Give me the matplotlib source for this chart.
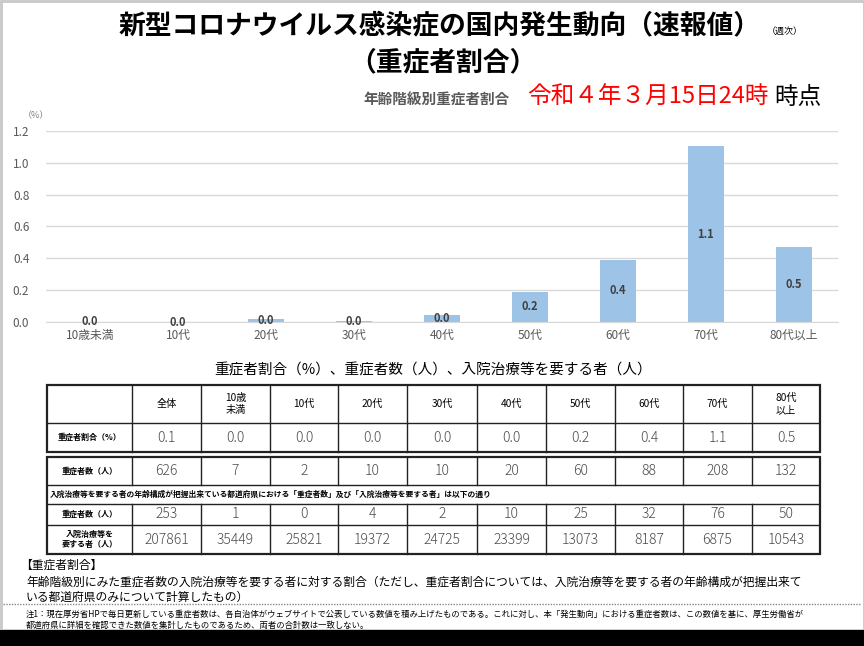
import matplotlib
matplotlib.use("Agg")
import matplotlib.pyplot as plt
from matplotlib.patches import Rectangle

plt.rcParams["font.family"] = ["Noto Sans CJK JP", "DejaVu Sans"]

# ---- data ----
age_groups = ["10歳未満", "10代", "20代", "30代", "40代", "50代", "60代", "70代", "80代以上"]
severe_ratio = [0.003, 0.0, 0.021, 0.008, 0.043, 0.191, 0.391, 1.105, 0.474]
total_ratio = 0.1

table_cols = ["全体", "10歳\n未満", "10代", "20代", "30代", "40代", "50代", "60代", "70代", "80代\n以上"]
severe_all = [626, 7, 2, 10, 10, 20, 60, 88, 208, 132]
severe_known = [253, 1, 0, 4, 2, 10, 25, 32, 76, 50]
inpatient_known = [207861, 35449, 25821, 19372, 24725, 23399, 13073, 8187, 6875, 10543]

W, H = 864, 646
fig = plt.figure(figsize=(W / 100, H / 100), dpi=100)
fig.patch.set_facecolor("white")

# overlay in pixel coordinates for titles, table and notes
ov = fig.add_axes([0, 0, 1, 1])
ov.set_xlim(0, W)
ov.set_ylim(H, 0)
ov.axis("off")

# frame and black band at bottom
ov.add_patch(Rectangle((0.5, 0.5), W - 1, 629, fill=False, edgecolor="#c8c8c8", linewidth=2))
ov.add_patch(Rectangle((0, 630), W, 16, facecolor="black", edgecolor="none"))

# titles
ov.text(440, 26, "新型コロナウイルス感染症の国内発生動向（速報値）", ha="center", va="center",
        fontsize=19.3, fontweight="bold", color="black")
ov.text(785, 31, "（週次）", ha="center", va="center", fontsize=6.5, color="black")
ov.text(443, 62, "（重症者割合）", ha="center", va="center", fontsize=19.3, fontweight="bold")
ov.text(510, 100, "年齢階級別重症者割合", ha="right", va="center", fontsize=10.5,
        fontweight="bold", color="#595959")
ov.text(527, 97, "令和４年３月15日24時", ha="left", va="center", fontsize=17, color="#ff0000")
ov.text(774, 97, "時点", ha="left", va="center", fontsize=17, color="black")
ov.text(36, 116, "（%）", ha="center", va="center", fontsize=6.5, color="#7f7f7f")

# ---- bar chart ----
ax = fig.add_axes([46 / W, 1 - 322 / H, (838 - 46) / W, (322 - 131) / H])
ax.patch.set_alpha(0)
x = range(len(age_groups))
ax.bar(x, severe_ratio, width=0.4, color="#9dc3e6", zorder=2)
for i, v in enumerate(severe_ratio):
    ax.text(i, v / 2, f"{v:.1f}", ha="center", va="center", fontsize=8,
            fontweight="bold", color="#404040", zorder=3)
ax.set_xlim(-0.5, len(age_groups) - 0.5)
ax.set_ylim(0, 1.2)
ax.set_yticks([0, 0.2, 0.4, 0.6, 0.8, 1.0, 1.2])
ax.set_yticklabels([f"{t:.1f}" for t in [0, 0.2, 0.4, 0.6, 0.8, 1.0, 1.2]])
ax.set_xticks(list(x))
ax.set_xticklabels(age_groups)
ax.yaxis.grid(True, color="#d9d9d9", linewidth=1, zorder=0)
ax.set_axisbelow(True)
for s in ["top", "right", "left"]:
    ax.spines[s].set_visible(False)
ax.spines["bottom"].set_color("#d9d9d9")
ax.tick_params(axis="both", length=0, colors="#595959", labelsize=8.5)
ax.tick_params(axis="y", pad=12)
ax.tick_params(axis="x", pad=5)

# ---- table ----
ov.text(433, 371, "重症者割合（%）、重症者数（人）、入院治療等を要する者（人）",
        ha="center", va="center", fontsize=10.5, color="black")

col_x = [47, 132, 201, 270, 338, 407, 477, 546, 615, 683, 752, 820]
lw_in = 1.0
lw_out = 1.6
lc = "#222222"


def hline(y, x0=col_x[0], x1=col_x[-1], lw=lw_in):
    ov.plot([x0, x1], [y, y], color=lc, linewidth=lw, solid_capstyle="butt")


def vlines(y0, y1, lw=lw_in):
    for cx in col_x[1:-1]:
        ov.plot([cx, cx], [y0, y1], color=lc, linewidth=lw)


def box(y0, y1):
    ov.add_patch(Rectangle((col_x[0], y0), col_x[-1] - col_x[0], y1 - y0,
                           fill=False, edgecolor=lc, linewidth=lw_out))


cx = [(col_x[i] + col_x[i + 1]) / 2 for i in range(len(col_x) - 1)]
num_kw = dict(ha="center", va="center", fontsize=10, color="#4a4a4a", fontweight="light")
lab_kw = dict(ha="center", va="center", fontsize=5.8, fontweight="bold", color="black")

# block A: header + ratio row
yA = [385, 423, 452]
box(yA[0], yA[-1])
hline(yA[1])
vlines(yA[0], yA[-1])
for i, lab in enumerate(table_cols):
    ov.text(cx[i + 1], (yA[0] + yA[1]) / 2, lab, ha="center", va="center",
            fontsize=7.3, color="black", linespacing=1.2)
ov.text(cx[0], (yA[1] + yA[2]) / 2, "重症者割合（%）", **lab_kw)
ratio_row = [total_ratio] + severe_ratio
for i, v in enumerate(ratio_row):
    ov.text(cx[i + 1], (yA[1] + yA[2]) / 2, f"{v:.1f}", **num_kw)

# block B: counts, note, known-prefecture rows
yB = [457, 485, 504, 525, 554]
box(yB[0], yB[-1])
for y in yB[1:-1]:
    hline(y)
vlines(yB[0], yB[1])
vlines(yB[2], yB[4])
ov.text(cx[0], (yB[0] + yB[1]) / 2, "重症者数（人）", **lab_kw)
for i, v in enumerate(severe_all):
    ov.text(cx[i + 1], (yB[0] + yB[1]) / 2, str(v), **num_kw)
ov.text(50, (yB[1] + yB[2]) / 2,
        "入院治療等を要する者の年齢構成が把握出来ている都道府県における「重症者数」及び「入院治療等を要する者」は以下の通り",
        ha="left", va="center", fontsize=5.6, fontweight="bold", color="black")
ov.text(cx[0], (yB[2] + yB[3]) / 2, "重症者数（人）", **lab_kw)
for i, v in enumerate(severe_known):
    ov.text(cx[i + 1], (yB[2] + yB[3]) / 2, str(v), **num_kw)
ov.text(cx[0], (yB[3] + yB[4]) / 2, "入院治療等を\n要する者（人）", linespacing=1.05, **lab_kw)
for i, v in enumerate(inpatient_known):
    ov.text(cx[i + 1], (yB[3] + yB[4]) / 2, str(v), **num_kw)

# ---- notes ----
ov.text(20, 565, "【重症者割合】", ha="left", va="center", fontsize=8.5, color="black")
ov.text(26, 582,
        "年齢階級別にみた重症者数の入院治療等を要する者に対する割合（ただし、重症者割合については、入院治療等を要する者の年齢構成が把握出来て",
        ha="left", va="center", fontsize=8.5, color="black")
ov.text(26, 597, "いる都道府県のみについて計算したもの）", ha="left", va="center",
        fontsize=8.5, color="black")
ov.plot([3, W - 3], [604, 604], color="#888888", linewidth=1, linestyle=(0, (1, 1)))
ov.text(26, 614,
        "注1：現在厚労省HPで毎日更新している重症者数は、各自治体がウェブサイトで公表している数値を積み上げたものである。これに対し、本「発生動向」における重症者数は、この数値を基に、厚生労働省が",
        ha="left", va="center", fontsize=6, color="black")
ov.text(26, 625,
        "都道府県に詳細を確認できた数値を集計したものであるため、両者の合計数は一致しない。",
        ha="left", va="center", fontsize=6, color="black")

fig.savefig("out.png", dpi=100, facecolor="white")
